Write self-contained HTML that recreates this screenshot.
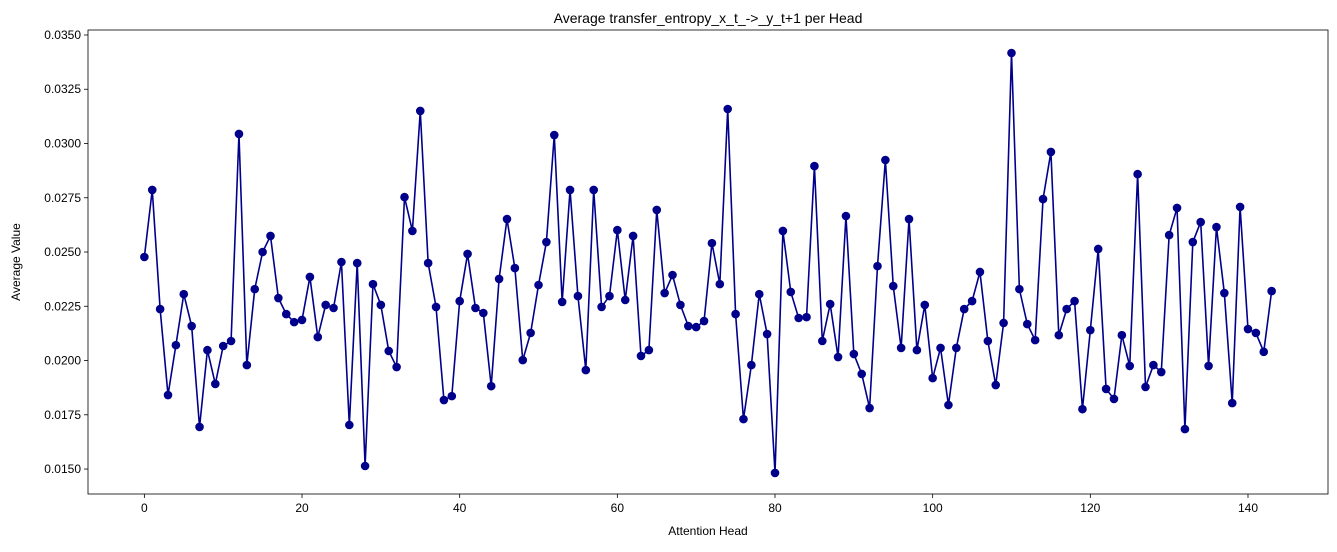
<!DOCTYPE html>
<html><head><meta charset="utf-8">
<style>
html,body{margin:0;padding:0;background:#fff;}
svg text{font-family:"Liberation Sans","DejaVu Sans",sans-serif;fill:#000;}
</style></head>
<body>
<svg id="chart" width="1337" height="547" xmlns="http://www.w3.org/2000/svg">
<text x="708" y="23" font-size="14" text-anchor="middle">Average transfer_entropy_x_t_-&gt;_y_t+1 per Head</text>
<text x="708" y="535" font-size="12" text-anchor="middle">Attention Head</text>
<text x="0" y="0" font-size="12" text-anchor="middle" transform="translate(20,262) rotate(-90)">Average Value</text>
<g id="plot"></g>
</svg>
<script>
const values=[0.02477,0.02786,0.02237,0.01841,0.02071,0.02306,0.02159,0.01694,0.02048,0.01892,
0.02067,0.0209,0.03044,0.01979,0.02329,0.025,0.02574,0.02288,0.02214,0.02177,
0.02187,0.02385,0.02108,0.02256,0.02242,0.02454,0.01703,0.02449,0.01514,0.02352,
0.02256,0.02044,0.0197,0.02753,0.02597,0.0315,0.02449,0.02247,0.01818,0.01836,
0.02274,0.02491,0.02242,0.02219,0.01882,0.02376,0.02652,0.02426,0.02002,0.02127,
0.02348,0.02546,0.03039,0.0227,0.02786,0.02297,0.01956,0.02786,0.02247,0.02297,
0.02601,0.02279,0.02574,0.02021,0.02048,0.02694,0.02311,0.02394,0.02256,0.02159,
0.02154,0.02182,0.02541,0.02352,0.03159,0.02214,0.0173,0.01979,0.02306,0.02122,
0.01482,0.02597,0.02316,0.02196,0.022,0.02896,0.0209,0.0226,0.02016,0.02666,
0.0203,0.01938,0.01781,0.02435,0.02924,0.02343,0.02058,0.02652,0.02048,0.02256,
0.01919,0.02058,0.01795,0.02058,0.02237,0.02274,0.02408,0.0209,0.01887,0.02173,
0.03417,0.02329,0.02168,0.02094,0.02744,0.02961,0.02117,0.02237,0.02274,0.01776,
0.0214,0.02514,0.01869,0.01823,0.02117,0.01975,0.02859,0.01878,0.01979,0.01947,
0.02578,0.02703,0.01684,0.02546,0.02638,0.01975,0.02615,0.02311,0.01804,0.02708,
0.02145,0.02127,0.0204,0.0232];
const xTicks=[0,20,40,60,80,100,120,140];
const yTicks=[0.015,0.0175,0.02,0.0225,0.025,0.0275,0.03,0.0325,0.035];

const L=88,R=1328,T=30,B=494;
const xMin=-7.15,xMax=values.length-1+7.15;
const yMin=0.01385,yMax=0.03523;
const sx=v=>L+(v-xMin)/(xMax-xMin)*(R-L);
const sy=v=>B-(v-yMin)/(yMax-yMin)*(B-T);
const NS="http://www.w3.org/2000/svg";
const g=document.getElementById('plot');
function mk(tag,attrs){const e=document.createElementNS(NS,tag);for(const k in attrs)e.setAttribute(k,attrs[k]);g.appendChild(e);return e;}

xTicks.forEach(t=>{
  const x=sx(t);
  const tk=mk('line',{x1:x,x2:x,y1:B,y2:B+4,stroke:'#000','stroke-width':0.8});
  
  
  const lb=mk('text',{x:x,y:B+18,'font-size':12,'text-anchor':'middle'});
  lb.textContent=String(t);
  
  
});
yTicks.forEach(t=>{
  const y=sy(t);
  const tk=mk('line',{x1:L-4,x2:L,y1:y,y2:y,stroke:'#000','stroke-width':0.8});
  
  
  const lb=mk('text',{x:L-7,y:y+4,'font-size':12,'text-anchor':'end'});
  lb.textContent=t.toFixed(4);
  
  
});

const pts=values.map((v,i)=>sx(i).toFixed(2)+','+sy(v).toFixed(2)).join(' ');
const line=mk('polyline',{points:pts,fill:'none',stroke:'#00008b','stroke-width':1.6,'stroke-linejoin':'round'});


values.forEach((v,i)=>{
  const c=mk('circle',{cx:sx(i),cy:sy(v),r:4.3,fill:'#00008b'});
  
  
});
const frame=mk('rect',{x:L,y:T,width:R-L,height:B-T,fill:'none',stroke:'#000','stroke-width':0.8});


</script>
</body></html>
